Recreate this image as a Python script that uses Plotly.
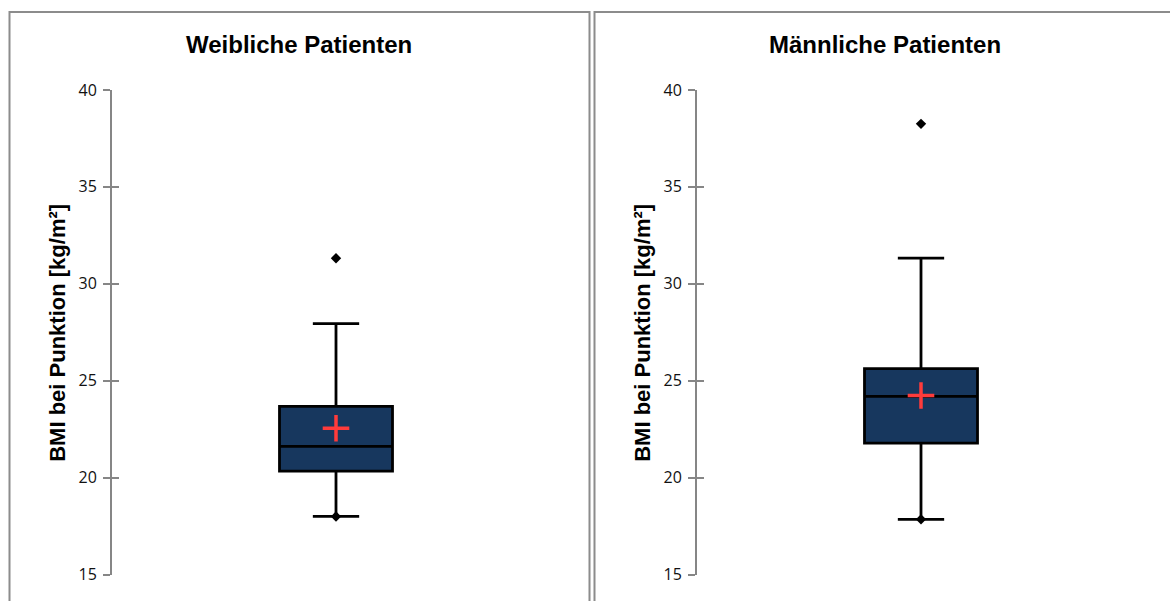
import plotly.graph_objects as go

# ---- data ----
panels = ["Weibliche Patienten", "Männliche Patienten"]
q1 = [20.34, 21.78]
median = [21.62, 24.19]
q3 = [23.68, 25.63]
lower_whisker = [18.0, 17.85]
upper_whisker = [27.95, 31.32]
means = [22.55, 24.24]
outliers = [[31.32, 18.0], [38.25, 17.85]]
y_title = "BMI bei Punktion [kg/m²]"
y_ticks = [15, 20, 25, 30, 35, 40]

W, H = 1170, 601
fig = go.Figure()

box_fill = "#17375E"
axis_gray = "#868686"


def py(ref_y):
    # vertical pixel (target picture) -> paper fraction
    return 1 - (ref_y / 0.968 - 10) / H


ax_left_px = [112, 697]
plot_w_px = 448
ydom = [py(576), py(89)]

for i in range(2):
    xa = "x" if i == 0 else "x2"
    ya = "y" if i == 0 else "y2"
    fig.add_trace(go.Box(
        x=[0], q1=[q1[i]], median=[median[i]], q3=[q3[i]],
        lowerfence=[lower_whisker[i]], upperfence=[upper_whisker[i]],
        width=113 / plot_w_px, whiskerwidth=0.41,
        fillcolor=box_fill, line=dict(color="black", width=2.8),
        boxpoints=False, xaxis=xa, yaxis=ya, showlegend=False, hoverinfo="skip",
    ))
    fig.add_trace(go.Scatter(
        x=[0] * len(outliers[i]), y=outliers[i], mode="markers",
        marker=dict(symbol="diamond", size=8, color="black"),
        xaxis=xa, yaxis=ya, showlegend=False, hoverinfo="skip",
    ))
    fig.add_trace(go.Scatter(
        x=[0], y=[means[i]], mode="markers",
        marker=dict(symbol="cross-thin", size=19, line=dict(color="#FF3B3B", width=3.5)),
        xaxis=xa, yaxis=ya, showlegend=False, hoverinfo="skip",
    ))

layout = dict(
    width=W, height=H, margin=dict(l=0, r=0, t=0, b=0),
    paper_bgcolor="white", plot_bgcolor="white", showlegend=False,
    font=dict(family="Liberation Sans, Arial", color="black"),
)
for i in range(2):
    sfx = "" if i == 0 else "2"
    x0 = ax_left_px[i] / W
    x1 = (ax_left_px[i] + plot_w_px) / W
    layout["xaxis" + sfx] = dict(domain=[x0, x1], range=[-0.5, 0.5], visible=False,
                                 anchor="y" + sfx, fixedrange=True)
    layout["yaxis" + sfx] = dict(
        domain=ydom, range=[15, 40], tickvals=y_ticks, anchor="x" + sfx,
        showgrid=False, zeroline=False, showline=True, linecolor=axis_gray, linewidth=2,
        ticks="outside", ticklen=7, tickwidth=1.5, tickcolor=axis_gray,
        tickfont=dict(family="Open Sans, Liberation Sans", size=16, color="#111111"),
        ticklabelstandoff=3,
    )
    layout["yaxis" + str(3 + i)] = dict(
        domain=ydom, range=[15, 40], tickvals=y_ticks[1:], overlaying="y" + sfx,
        anchor="x" + sfx, showgrid=False, zeroline=False, showline=False,
        ticks="inside", ticklen=7, tickwidth=1.5, tickcolor=axis_gray,
        showticklabels=False,
    )
fig.update_layout(**layout)
for i in range(2):
    fig.add_trace(go.Scatter(x=[None], y=[None], xaxis="x" if i == 0 else "x2",
                             yaxis="y" + str(3 + i), showlegend=False, hoverinfo="skip"))

top_border = 1 - 1.0 / H
fig.add_shape(type="rect", xref="paper", yref="paper",
              x0=9.5 / W, x1=589.5 / W, y0=-0.05, y1=top_border,
              line=dict(color="#8c8c8c", width=2), layer="below")
fig.add_shape(type="rect", xref="paper", yref="paper",
              x0=594.5 / W, x1=1.05, y0=-0.05, y1=top_border,
              line=dict(color="#8c8c8c", width=2), layer="below")

centers = [299, 885]
for i in range(2):
    fig.add_annotation(text="<b>" + panels[i] + "</b>", xref="paper", yref="paper",
                       x=centers[i] / W, y=py(43), showarrow=False,
                       font=dict(size=24, family="Liberation Sans, Arial", color="black"),
                       xanchor="center", yanchor="middle")
    fig.add_annotation(text="<b>" + y_title + "</b>", xref="paper", yref="paper",
                       x=(ax_left_px[i] - 54) / W, y=py(333), showarrow=False,
                       textangle=-90,
                       font=dict(size=22, family="Liberation Sans, Arial", color="black"),
                       xanchor="center", yanchor="middle")

fig.write_html(
    "out.html",
    config={"displayModeBar": False},
    post_script="document.body.style.margin='0';document.body.style.overflow='hidden';",
)
